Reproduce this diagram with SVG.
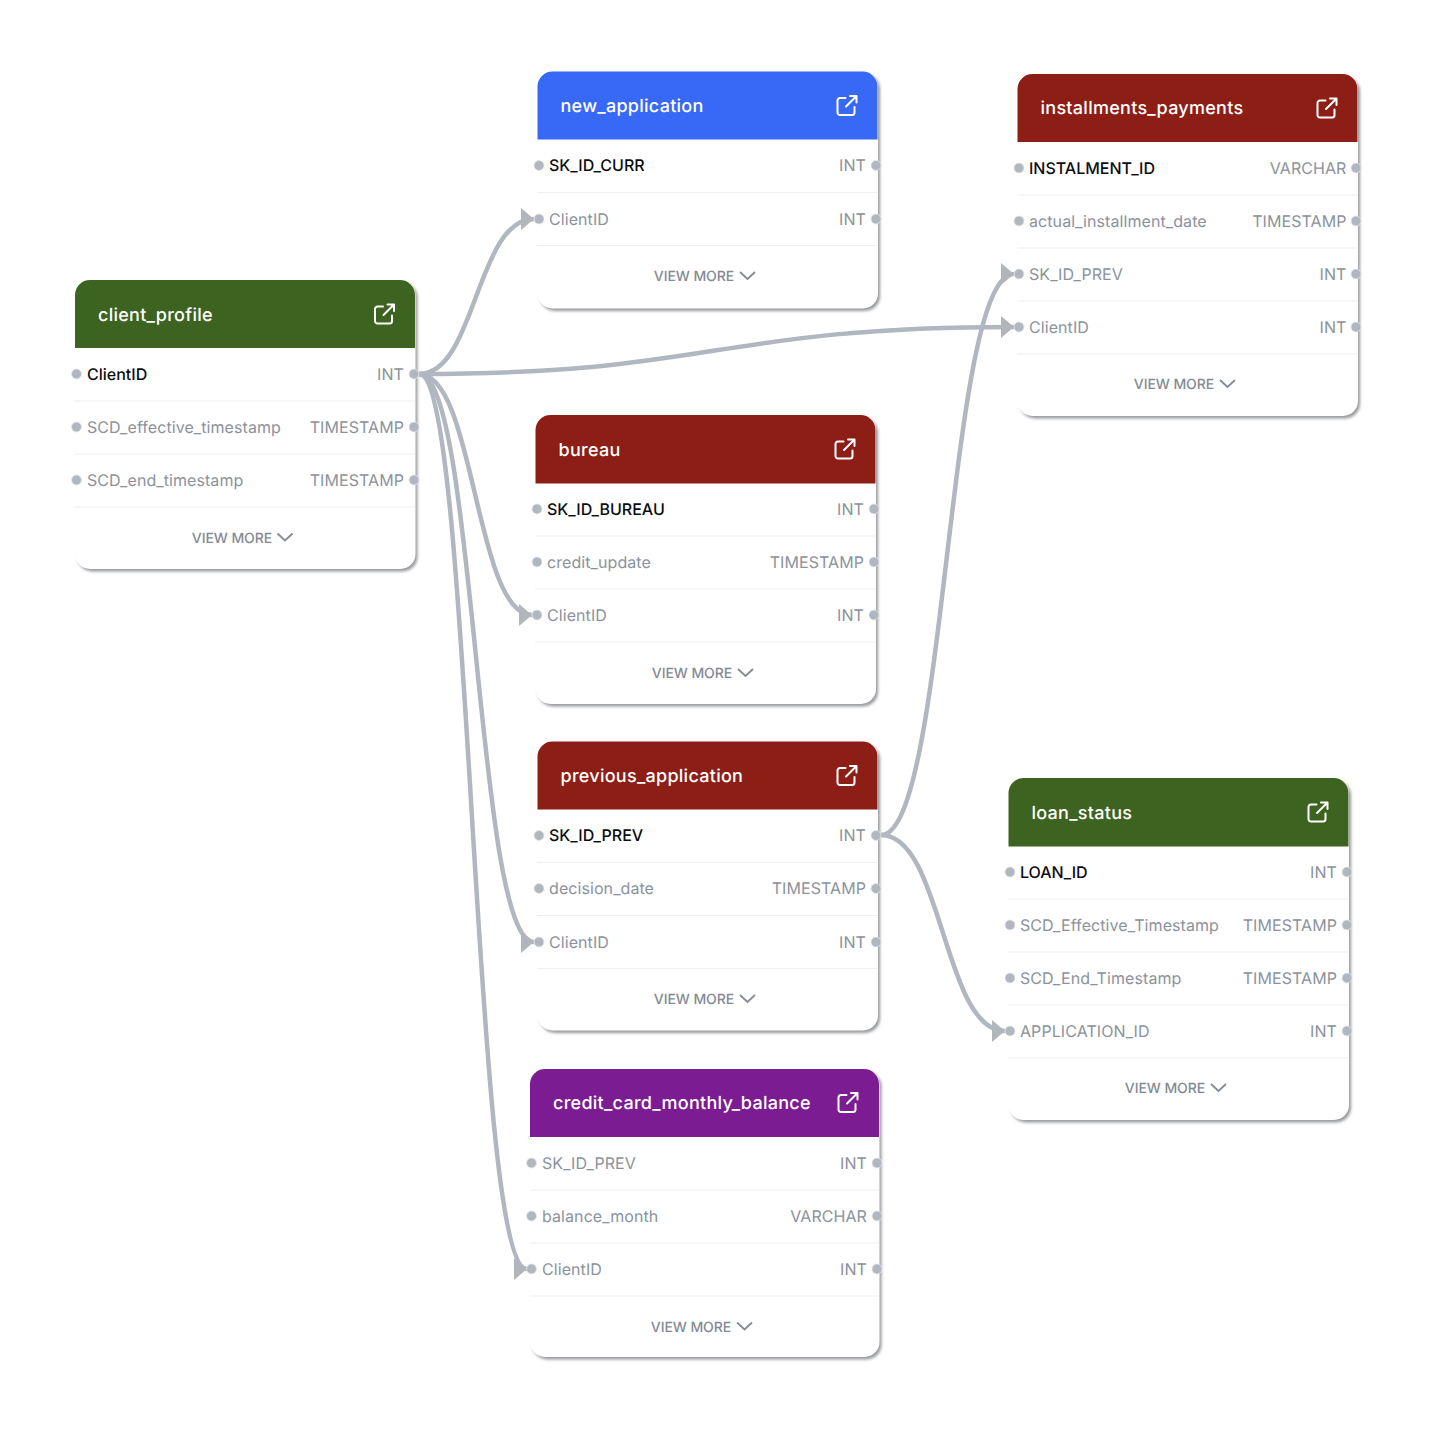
<svg xmlns="http://www.w3.org/2000/svg" width="1452" height="1434" viewBox="0 0 1452 1434">
<style>
text{font-family:Inter,"Liberation Sans",sans-serif;text-rendering:geometricPrecision}
.card{fill:#fff}
.shadow{fill:#97999d;filter:url(#blur)}
.title{font-size:18px;font-weight:500;fill:#fff;letter-spacing:.27px}
.pk{font-size:16px;font-weight:500;fill:#0b0d10}
.col{font-size:16px;fill:#8c929c;letter-spacing:.08px}
.typ{font-size:16px;fill:#8c929c;text-anchor:end;letter-spacing:.08px}
.more{font-size:14px;font-weight:500;fill:#848a94;text-anchor:middle;letter-spacing:-.08px}
.sep{stroke:#eeeff1;stroke-width:1;fill:none}
.port{fill:#b1b7c0;stroke:#e4e6e9;stroke-width:.8}
.edge{fill:none;stroke:#b1b7c0;stroke-width:4.500}
.chev{fill:none;stroke:#848a94;stroke-width:1.800}
.ico{fill:none;stroke:#fff;stroke-width:2;stroke-linecap:round;stroke-linejoin:round}
</style>
<defs>
<filter id="blur" x="-5%" y="-5%" width="110%" height="110%"><feGaussianBlur stdDeviation="1.400"/></filter>
<marker id="arrow" markerUnits="userSpaceOnUse" markerWidth="14" markerHeight="24" refX="13" refY="11" orient="0"><path d="M0 0L13 11L0 22Z" fill="#b2b5bb"/></marker>
<g id="icon" transform="translate(-.5 -.5)"><path class="ico" d="M9 3H3.500A2.500 2.500 0 0 0 1 5.500V17.500A2.500 2.500 0 0 0 3.500 20H15.500A2.500 2.500 0 0 0 18 17.500V12M20 1L9.500 11.500M13.500 1H20V7.500"/></g>
<path id="chevron" class="chev" d="M0 0L7.500 7L15 0"/>
</defs>
<rect width="1452" height="1434" fill="#fff"/>

<g id="connectors">
<path class="edge" marker-end="url(#arrow)" d="M419 374C476 374 476 219 534 219"/>
<path class="edge" marker-end="url(#arrow)" d="M419 374C715 374 715 327 1014 327"/>
<path class="edge" marker-end="url(#arrow)" d="M419 374C475 374 475 615 532 615"/>
<path class="edge" marker-end="url(#arrow)" d="M419 374C476 374 476 942 534 942"/>
<path class="edge" marker-end="url(#arrow)" d="M419 374C472 374 472 1269 527 1269"/>
<path class="edge" marker-end="url(#arrow)" d="M881 835C947 835 947 274 1014 274"/>
<path class="edge" marker-end="url(#arrow)" d="M881 835C943 835 943 1031 1005 1031"/>
</g>

<g id="client_profile">
<rect class="shadow" x="77.500" y="282.500" width="340" height="289" rx="15"/>
<rect class="card" x="75" y="280" width="340.500" height="289" rx="15"/>
<path fill="#3d6320" d="M75 348V295A15 15 0 0 1 90 280H400A15 15 0 0 1 415 295V348Z"/>
<text class="title" x="98" y="321">client_profile</text>
<use href="#icon" x="374.500" y="304"/>
<path class="sep" d="M75 401H415M75 454H415M75 507H415"/>
<circle class="port" cx="76.500" cy="374" r="5"/><circle class="port" cx="414" cy="374" r="5"/>
<circle class="port" cx="76.500" cy="427" r="5"/><circle class="port" cx="414" cy="427" r="5"/>
<circle class="port" cx="76.500" cy="480" r="5"/><circle class="port" cx="414" cy="480" r="5"/>
<text class="pk" x="87" y="380">ClientID</text><text class="typ" x="404" y="380">INT</text>
<text class="col" x="87" y="433">SCD_effective_timestamp</text><text class="typ" x="404" y="433">TIMESTAMP</text>
<text class="col" x="87" y="486">SCD_end_timestamp</text><text class="typ" x="404" y="486">TIMESTAMP</text>
<text class="more" x="232" y="543">VIEW MORE</text><use href="#chevron" x="277.500" y="533.500"/>
</g>

<g id="new_application">
<rect class="shadow" x="540" y="74" width="340" height="237" rx="15"/>
<rect class="card" x="537.500" y="71.500" width="340.500" height="237" rx="15"/>
<path fill="#3768f6" d="M537.500 139.500V86.500A15 15 0 0 1 552.500 71.500H862.500A15 15 0 0 1 877.500 86.500V139.500Z"/>
<text class="title" x="560.500" y="112">new_application</text>
<use href="#icon" x="837" y="95.500"/>
<path class="sep" d="M537.500 192.500H877.500M537.500 245.500H877.500"/>
<circle class="port" cx="539" cy="165.500" r="5"/><circle class="port" cx="876" cy="165.500" r="5"/>
<circle class="port" cx="539" cy="219" r="5"/><circle class="port" cx="876" cy="219" r="5"/>
<text class="pk" x="549" y="171">SK_ID_CURR</text><text class="typ" x="866" y="171">INT</text>
<text class="col" x="549" y="225">ClientID</text><text class="typ" x="866" y="225">INT</text>
<text class="more" x="694" y="281">VIEW MORE</text><use href="#chevron" x="740" y="272"/>
</g>

<g id="installments_payments">
<rect class="shadow" x="1020" y="76.500" width="340" height="342" rx="15"/>
<rect class="card" x="1017.500" y="74" width="340.500" height="342" rx="15"/>
<path fill="#8c1e16" d="M1017.500 142V89A15 15 0 0 1 1032.500 74H1342.500A15 15 0 0 1 1357.500 89V142Z"/>
<text class="title" x="1040.500" y="114">installments_payments</text>
<use href="#icon" x="1317" y="98"/>
<path class="sep" d="M1017.500 195H1357.500M1017.500 248H1357.500M1017.500 301H1357.500M1017.500 354H1357.500"/>
<circle class="port" cx="1019" cy="168" r="5"/><circle class="port" cx="1356" cy="168" r="5"/>
<circle class="port" cx="1019" cy="221" r="5"/><circle class="port" cx="1356" cy="221" r="5"/>
<circle class="port" cx="1019" cy="274" r="5"/><circle class="port" cx="1356" cy="274" r="5"/>
<circle class="port" cx="1019" cy="327" r="5"/><circle class="port" cx="1356" cy="327" r="5"/>
<text class="pk" x="1029" y="174">INSTALMENT_ID</text><text class="typ" x="1346.500" y="174">VARCHAR</text>
<text class="col" x="1029" y="227">actual_installment_date</text><text class="typ" x="1346.500" y="227">TIMESTAMP</text>
<text class="col" x="1029" y="280">SK_ID_PREV</text><text class="typ" x="1346.500" y="280">INT</text>
<text class="col" x="1029" y="333">ClientID</text><text class="typ" x="1346.500" y="333">INT</text>
<text class="more" x="1174" y="389">VIEW MORE</text><use href="#chevron" x="1220" y="380"/>
</g>

<g id="bureau">
<rect class="shadow" x="538" y="417.500" width="340" height="289" rx="15"/>
<rect class="card" x="535.500" y="415" width="340.500" height="289" rx="15"/>
<path fill="#8c1e16" d="M535.500 483.500V430A15 15 0 0 1 550.500 415H860.500A15 15 0 0 1 875.500 430V483.500Z"/>
<text class="title" x="558.500" y="456">bureau</text>
<use href="#icon" x="835" y="439"/>
<path class="sep" d="M535.500 536H875.500M535.500 589H875.500M535.500 642H875.500"/>
<circle class="port" cx="537" cy="509" r="5"/><circle class="port" cx="874" cy="509" r="5"/>
<circle class="port" cx="537" cy="562" r="5"/><circle class="port" cx="874" cy="562" r="5"/>
<circle class="port" cx="537" cy="615" r="5"/><circle class="port" cx="874" cy="615" r="5"/>
<text class="pk" x="547" y="515">SK_ID_BUREAU</text><text class="typ" x="864" y="515">INT</text>
<text class="col" x="547" y="568">credit_update</text><text class="typ" x="864" y="568">TIMESTAMP</text>
<text class="col" x="547" y="621">ClientID</text><text class="typ" x="864" y="621">INT</text>
<text class="more" x="692" y="678">VIEW MORE</text><use href="#chevron" x="738" y="669"/>
</g>

<g id="previous_application">
<rect class="shadow" x="540" y="744" width="340" height="289" rx="15"/>
<rect class="card" x="537.500" y="741.500" width="340.500" height="289" rx="15"/>
<path fill="#8c1e16" d="M537.500 809.500V756.500A15 15 0 0 1 552.500 741.500H862.500A15 15 0 0 1 877.500 756.500V809.500Z"/>
<text class="title" x="560.500" y="782">previous_application</text>
<use href="#icon" x="837" y="765.500"/>
<path class="sep" d="M537.500 862.500H877.500M537.500 915.500H877.500M537.500 968.500H877.500"/>
<circle class="port" cx="539" cy="835.500" r="5"/><circle class="port" cx="876" cy="835.500" r="5"/>
<circle class="port" cx="539" cy="888.500" r="5"/><circle class="port" cx="876" cy="888.500" r="5"/>
<circle class="port" cx="539" cy="942" r="5"/><circle class="port" cx="876" cy="942" r="5"/>
<text class="pk" x="549" y="841">SK_ID_PREV</text><text class="typ" x="866" y="841">INT</text>
<text class="col" x="549" y="894">decision_date</text><text class="typ" x="866" y="894">TIMESTAMP</text>
<text class="col" x="549" y="948">ClientID</text><text class="typ" x="866" y="948">INT</text>
<text class="more" x="694" y="1004">VIEW MORE</text><use href="#chevron" x="740" y="995"/>
</g>

<g id="credit_card_monthly_balance">
<rect class="shadow" x="532.500" y="1071.500" width="349" height="288" rx="15"/>
<rect class="card" x="530" y="1069" width="349.500" height="288" rx="15"/>
<path fill="#7c1c93" d="M530 1137V1084A15 15 0 0 1 545 1069H864A15 15 0 0 1 879 1084V1137Z"/>
<text class="title" x="553" y="1109">credit_card_monthly_balance</text>
<use href="#icon" x="838" y="1092.500"/>
<path class="sep" d="M530 1190H879M530 1243H879M530 1296H879"/>
<circle class="port" cx="531.500" cy="1163" r="5"/><circle class="port" cx="877" cy="1163" r="5"/>
<circle class="port" cx="531.500" cy="1216" r="5"/><circle class="port" cx="877" cy="1216" r="5"/>
<circle class="port" cx="531.500" cy="1269" r="5"/><circle class="port" cx="877" cy="1269" r="5"/>
<text class="col" x="542" y="1169">SK_ID_PREV</text><text class="typ" x="867" y="1169">INT</text>
<text class="col" x="542" y="1222">balance_month</text><text class="typ" x="867" y="1222">VARCHAR</text>
<text class="col" x="542" y="1275">ClientID</text><text class="typ" x="867" y="1275">INT</text>
<text class="more" x="691" y="1332">VIEW MORE</text><use href="#chevron" x="737" y="1322.500"/>
</g>

<g id="loan_status">
<rect class="shadow" x="1011" y="780.500" width="340" height="342" rx="15"/>
<rect class="card" x="1008.500" y="778" width="340.500" height="342" rx="15"/>
<path fill="#3d6320" d="M1008.500 846.500V793A15 15 0 0 1 1023.500 778H1333.500A15 15 0 0 1 1348.500 793V846.500Z"/>
<text class="title" x="1031.500" y="819">loan_status</text>
<use href="#icon" x="1308" y="802"/>
<path class="sep" d="M1008.500 899H1348.500M1008.500 952H1348.500M1008.500 1005H1348.500M1008.500 1058H1348.500"/>
<circle class="port" cx="1010" cy="872" r="5"/><circle class="port" cx="1347" cy="872" r="5"/>
<circle class="port" cx="1010" cy="925" r="5"/><circle class="port" cx="1347" cy="925" r="5"/>
<circle class="port" cx="1010" cy="978" r="5"/><circle class="port" cx="1347" cy="978" r="5"/>
<circle class="port" cx="1010" cy="1031" r="5"/><circle class="port" cx="1347" cy="1031" r="5"/>
<text class="pk" x="1020" y="878">LOAN_ID</text><text class="typ" x="1337" y="878">INT</text>
<text class="col" x="1020" y="931">SCD_Effective_Timestamp</text><text class="typ" x="1337" y="931">TIMESTAMP</text>
<text class="col" x="1020" y="984">SCD_End_Timestamp</text><text class="typ" x="1337" y="984">TIMESTAMP</text>
<text class="col" x="1020" y="1037">APPLICATION_ID</text><text class="typ" x="1337" y="1037">INT</text>
<text class="more" x="1165" y="1093">VIEW MORE</text><use href="#chevron" x="1211" y="1084"/>
</g>
</svg>
